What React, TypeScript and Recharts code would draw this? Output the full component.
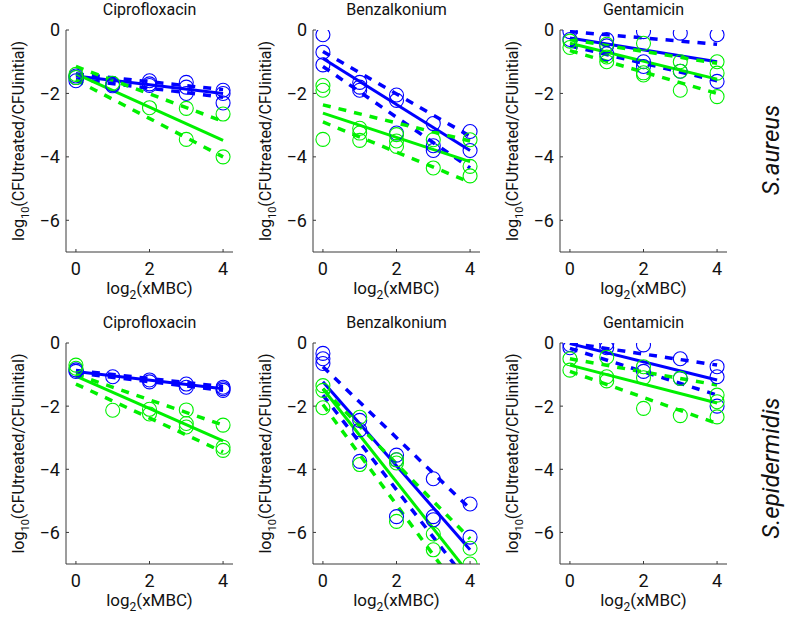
import React from "react";
import { ComposedChart, Line, Scatter, XAxis, YAxis } from "recharts";

const doses = [0, 1, 2, 3, 4];
const fitDoses = [0, 4];
const xTicks = [0, 2, 4];
const yTicks = [0, -2, -4, -6];
const drugs = ["Ciprofloxacin", "Benzalkonium", "Gentamicin"];
const strains = ["S.aureus", "S.epidermidis"];

// replicate readings, one list per dose (log10 CFU ratio)
const saCiproBlue = [[-1.45, -1.5, -1.6], [-1.72, -1.76], [-1.6, -1.7, -1.75], [-1.65, -1.8, -2.0], [-1.9, -2.0, -2.3]];
const saCiproGreen = [[-1.4, -1.5], [-1.68], [-2.45], [-2.47, -3.45], [-2.65, -4.0]];
const saBenzBlue = [[-0.15, -0.7, -1.1], [-1.65, -1.8, -1.9], [-2.05, -2.22, -3.25], [-2.95, -3.65, -3.8], [-3.2, -3.8]];
const saBenzGreen = [[-1.75, -1.9, -3.45], [-3.1, -3.25, -3.48], [-3.3, -3.5, -3.67], [-3.46, -4.35], [-3.46, -4.3, -4.6]];
const saGentBlue = [[-0.05, -0.3], [-0.3, -0.5, -0.75], [-0.05, -1.0, -1.15], [-0.1, -1.3], [-0.15, -1.62]];
const saGentGreen = [[-0.35, -0.55], [-0.45, -0.85, -1.0], [-0.42, -1.35, -1.42], [-1.0, -1.3, -1.9], [-1.0, -1.36, -2.1]];
const seCiproBlue = [[-0.85, -0.9], [-1.07], [-1.17, -1.23], [-1.3, -1.4], [-1.4, -1.45, -1.5]];
const seCiproGreen = [[-0.7, -0.8], [-2.13], [-2.1, -2.25], [-2.12, -2.55, -2.66], [-2.6, -3.3, -3.4]];
const seBenzBlue = [[-0.33, -0.5, -0.65], [-2.45, -2.75, -3.75], [-3.55, -3.7, -5.5], [-4.3, -5.5, -5.6], [-5.1, -6.15]];
const seBenzGreen = [[-1.35, -1.5, -2.05], [-2.35, -3.85], [-3.7, -3.8, -5.65], [-6.05, -6.55], [-6.5, -7.0]];
const seGentBlue = [[-0.05, -0.15], [-0.02, -0.15], [-0.06, -0.9], [-0.5, -1.12], [-0.75, -1.07, -2.0]];
const seGentGreen = [[-0.5, -0.86], [-0.45, -1.07, -1.2], [-0.75, -1.1, -2.07], [-1.12, -2.3], [-1.65, -1.86, -2.34]];

// fitted lines: [fit, upper, lower], each as values at dose 0 and dose 4
const saCiproBlueFit = [[-1.45, -2.0], [-1.38, -1.88], [-1.55, -2.12]];
const saCiproGreenFit = [[-1.38, -3.48], [-1.15, -2.88], [-1.58, -4.0]];
const saBenzBlueFit = [[-0.9, -3.8], [-0.68, -3.35], [-1.15, -4.35]];
const saBenzGreenFit = [[-2.62, -4.15], [-2.36, -3.5], [-2.9, -4.8]];
const saGentBlueFit = [[-0.25, -1.0], [-0.05, -0.45], [-0.5, -1.6]];
const saGentGreenFit = [[-0.42, -1.55], [-0.3, -1.05], [-0.65, -2.0]];
const seCiproBlueFit = [[-0.9, -1.45], [-0.87, -1.38], [-0.95, -1.5]];
const seCiproGreenFit = [[-1.05, -3.1], [-1.0, -2.6], [-1.3, -3.45]];
const seBenzBlueFit = [[-1.23, -6.55], [-0.75, -5.25], [-1.65, -7.65]];
const seBenzGreenFit = [[-1.45, -7.35], [-1.45, -6.2], [-1.95, -8.3]];
const seGentBlueFit = [[-0.02, -1.17], [0.0, -0.7], [-0.17, -1.65]];
const seGentGreenFit = [[-0.7, -1.9], [-0.5, -1.33], [-0.9, -2.55]];

const rows = [
  [
    [saCiproBlue, saCiproBlueFit, saCiproGreen, saCiproGreenFit],
    [saBenzBlue, saBenzBlueFit, saBenzGreen, saBenzGreenFit],
    [saGentBlue, saGentBlueFit, saGentGreen, saGentGreenFit],
  ],
  [
    [seCiproBlue, seCiproBlueFit, seCiproGreen, seCiproGreenFit],
    [seBenzBlue, seBenzBlueFit, seBenzGreen, seBenzGreenFit],
    [seGentBlue, seGentBlueFit, seGentGreen, seGentGreenFit],
  ],
];

const BLUE = "#0000ff";
const GREEN = "#00f000";
const AXIS = "#3a3a3a";
const FONT = "Roboto, 'Liberation Sans', sans-serif";

const colLefts = [66, 313, 560];
const rowTops = [30, 343];
const rowHeights = [222, 221];
const plotW = 167;

const toPoints = (reps: number[][]) =>
  reps.flatMap((vals, i) => vals.map((v) => ({ x: doses[i], y: v })));
const toLine = (pair: number[]) => fitDoses.map((d, i) => ({ x: d, y: pair[i] }));

const ring = (color: string) => (p: any) =>
  <circle cx={p.cx} cy={p.cy} r={7} fill="none" stroke={color} strokeWidth={1.1} />;

const fmt = (v: number) => (v < 0 ? `\u2212${-v}` : `${v}`);

function Panel({ data, left, top, h }: { data: any[]; left: number; top: number; h: number }) {
  const [blue, blueFit, green, greenFit] = data;
  const fitLine = (pair: number[], color: string, dashed: boolean, key: string) => (
    <Line
      key={key}
      data={toLine(pair)}
      dataKey="y"
      stroke={color}
      strokeWidth={dashed ? 3.5 : 3}
      strokeDasharray={dashed ? "8 8" : undefined}
      dot={false}
      activeDot={false}
      isAnimationActive={false}
    />
  );
  return (
    <div style={{ position: "absolute", left: left - 55, top: top - 30 }}>
      <ComposedChart width={55 + plotW + 25} height={30 + h + 60} margin={{ top: 30, right: 25, bottom: 30, left: 0 }}>
        <XAxis
          type="number"
          dataKey="x"
          domain={[-0.27, 4.27]}
          ticks={xTicks}
          allowDataOverflow
          height={30}
          stroke={AXIS}
          tickSize={-3}
          tickMargin={13}
          tick={{ fill: "#111", fontSize: 18, fontFamily: FONT }}
        />
        <YAxis
          type="number"
          dataKey="y"
          domain={[-7, 0]}
          ticks={yTicks}
          allowDataOverflow
          width={55}
          stroke={AXIS}
          tickSize={-3}
          tickMargin={9}
          tickFormatter={fmt}
          tick={{ fill: "#111", fontSize: 18, fontFamily: FONT }}
        />
        <Scatter data={toPoints(blue)} fill="none" shape={ring(BLUE)} isAnimationActive={false} />
        <Scatter data={toPoints(green)} fill="none" shape={ring(GREEN)} isAnimationActive={false} />
        {fitLine(blueFit[0], BLUE, false, "b0")}
        {fitLine(blueFit[1], BLUE, true, "b1")}
        {fitLine(blueFit[2], BLUE, true, "b2")}
        {fitLine(greenFit[0], GREEN, false, "g0")}
        {fitLine(greenFit[1], GREEN, true, "g1")}
        {fitLine(greenFit[2], GREEN, true, "g2")}
      </ComposedChart>
    </div>
  );
}

export default function App() {
  return (
    <div style={{ position: "absolute", left: 0, top: 0, width: 787, height: 617, background: "#fff", overflow: "hidden" }}>
      {rows.map((row, r) =>
        row.map((data, c) => (
          <Panel key={`${r}-${c}`} data={data} left={colLefts[c]} top={rowTops[r]} h={rowHeights[r]} />
        ))
      )}
      <svg width={787} height={617} style={{ position: "absolute", left: 0, top: 0, pointerEvents: "none" }} fontFamily={FONT}>
        {rowTops.map((top, r) =>
          colLefts.map((left, c) => {
            const cx = left + plotW / 2;
            const cy = top + rowHeights[r] / 2;
            const bottom = top + rowHeights[r];
            return (
              <g key={`t${r}${c}`}>
                <text x={cx} y={top - 15} textAnchor="middle" fontSize={16} fill="#111">
                  {drugs[c]}
                </text>
                <text x={cx} y={bottom + 42} textAnchor="middle" fontSize={17} fill="#111">
                  log<tspan dy={5} fontSize={12}>2</tspan>
                  <tspan dy={-5}>(xMBC)</tspan>
                </text>
                <text
                  transform={`translate(${left - 42},${cy}) rotate(-90)`}
                  textAnchor="middle"
                  fontSize={16}
                  fill="#111"
                >
                  log<tspan dy={5} fontSize={11}>10</tspan>
                  <tspan dy={-5}>(CFUtreated/CFUinitial)</tspan>
                </text>
              </g>
            );
          })
        )}
        <text transform="translate(779,150) rotate(-90)" textAnchor="middle" fontSize={24} fontStyle="italic" fill="#111">
          {strains[0]}
        </text>
        <text transform="translate(779,468) rotate(-90)" textAnchor="middle" fontSize={24} fontStyle="italic" fill="#111">
          {strains[1]}
        </text>
      </svg>
    </div>
  );
}
